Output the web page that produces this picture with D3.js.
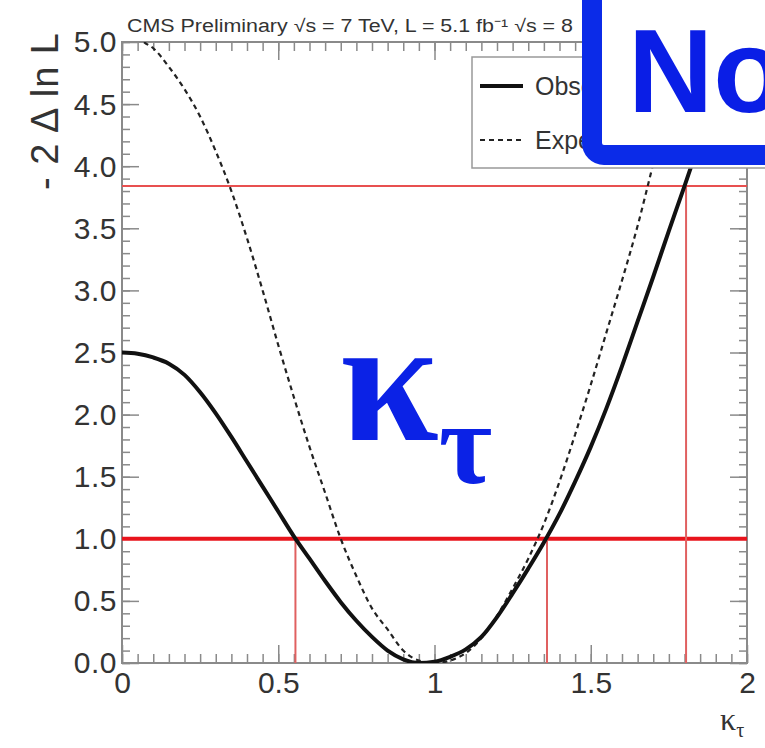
<!DOCTYPE html>
<html><head><meta charset="utf-8">
<script src="https://cdn.jsdelivr.net/npm/d3@7"></script>
<style>body{margin:0;background:#fff}svg{display:block}</style>
</head><body>
<script>
// ---- data ----
const kappa = [0,0.05,0.1,0.15,0.2,0.25,0.3,0.35,0.4,0.45,0.5,0.55,0.6,0.65,0.7,0.75,0.8,0.85,0.9,0.95,1.0,1.05,1.1,1.15,1.2,1.25,1.3,1.35,1.4,1.45,1.5,1.55,1.6,1.65,1.7,1.75,1.8,1.85,1.9,1.95];
const observed = [2.50,2.49,2.46,2.41,2.32,2.18,2.01,1.82,1.62,1.42,1.22,1.02,0.84,0.66,0.49,0.34,0.21,0.10,0.03,0.00,0.01,0.05,0.11,0.21,0.37,0.56,0.76,0.97,1.20,1.46,1.74,2.05,2.39,2.75,3.11,3.48,3.84,4.21,4.60,5.00];
const kappaExp = [0.05,0.07,0.1,0.15,0.2,0.25,0.3,0.35,0.4,0.45,0.5,0.55,0.6,0.65,0.7,0.75,0.8,0.85,0.9,0.95,1.0,1.05,1.1,1.15,1.2,1.25,1.3,1.35,1.4,1.45,1.5,1.55,1.6,1.65,1.7,1.75,1.8];
const expected = [5.05,5.0,4.95,4.80,4.62,4.40,4.12,3.80,3.42,3.00,2.56,2.14,1.74,1.37,1.00,0.70,0.44,0.27,0.10,0.02,0.00,0.02,0.08,0.20,0.38,0.60,0.84,1.12,1.46,1.84,2.24,2.66,3.08,3.52,4.02,4.52,5.00];
const levels = [1.0, 3.84];
const crossings = [[0.555,1.0],[1.36,1.0],[1.805,3.84]];
const yTicks = [0,0.5,1,1.5,2,2.5,3,3.5,4,4.5,5];
const xTicks = [0,0.5,1,1.5,2];
const legendLabels = ["Observed","Expected"];

// ---- layout ----
const W=765,H=748, L=122, R=747, T=42, B=663;
const svg=d3.select("body").append("svg").attr("width",W).attr("height",H);
const x=d3.scaleLinear().domain([0,2]).range([L,R]);
const y=d3.scaleLinear().domain([0,5]).range([B,T]);
const grey="#333", frame="#8a8a8a";
const sans="Liberation Sans, Arial, sans-serif";

const defs=svg.append("defs");
defs.append("clipPath").attr("id","plot").append("rect").attr("x",L).attr("y",T).attr("width",R-L).attr("height",B-T);

// frame
svg.append("rect").attr("x",L).attr("y",T).attr("width",R-L).attr("height",B-T).attr("fill","none").attr("stroke",frame).attr("stroke-width",2);

function styleAxis(g){g.select(".domain").remove();g.selectAll("line").attr("stroke",frame).attr("stroke-width",1.5);}
const yMinor=d3.range(0,5.01,0.1).map(v=>+v.toFixed(2));
const xMinor=d3.range(0,2.001,0.05).map(v=>+v.toFixed(3));
// left axis
svg.append("g").attr("transform",`translate(${L},0)`).call(d3.axisLeft(y).tickValues(yMinor).tickSize(-8).tickFormat("")).call(styleAxis);
svg.append("g").attr("transform",`translate(${L},0)`).call(d3.axisLeft(y).tickValues(yTicks).tickSize(-17).tickPadding(5).tickFormat(d3.format(".1f"))).call(styleAxis)
  .selectAll("text").attr("font-family",sans).attr("font-size",30).attr("letter-spacing",0.5).attr("fill",grey).attr("dy","0.33em");
// right axis
svg.append("g").attr("transform",`translate(${R},0)`).call(d3.axisRight(y).tickValues(yMinor).tickSize(-8).tickFormat("")).call(styleAxis);
svg.append("g").attr("transform",`translate(${R},0)`).call(d3.axisRight(y).tickValues(yTicks).tickSize(-17).tickFormat("")).call(styleAxis);
// bottom axis
svg.append("g").attr("transform",`translate(0,${B})`).call(d3.axisBottom(x).tickValues(xMinor).tickSize(-9).tickFormat("")).call(styleAxis);
svg.append("g").attr("transform",`translate(0,${B})`).call(d3.axisBottom(x).tickValues(xTicks).tickSize(-18).tickPadding(9).tickFormat(d=>d3.format("")(d))).call(styleAxis)
  .selectAll("text").attr("font-family",sans).attr("font-size",30).attr("fill",grey).attr("dy","0.71em");
// top axis
svg.append("g").attr("transform",`translate(0,${T})`).call(d3.axisTop(x).tickValues(xMinor).tickSize(-9).tickFormat("")).call(styleAxis);
svg.append("g").attr("transform",`translate(0,${T})`).call(d3.axisTop(x).tickValues(xTicks).tickSize(-18).tickFormat("")).call(styleAxis);

const plot=svg.append("g").attr("clip-path","url(#plot)");
// red lines
plot.append("line").attr("x1",L).attr("x2",R).attr("y1",y(levels[0])).attr("y2",y(levels[0])).attr("stroke","#e8141c").attr("stroke-width",4);
plot.append("line").attr("x1",L).attr("x2",R).attr("y1",y(levels[1])).attr("y2",y(levels[1])).attr("stroke","#e85050").attr("stroke-width",2);
crossings.forEach(c=>{
  plot.append("line").attr("x1",x(c[0])).attr("x2",x(c[0])).attr("y1",y(0)).attr("y2",y(c[1])).attr("stroke","#e06060").attr("stroke-width",2);
});
// curves
const line=d3.line().curve(d3.curveMonotoneX);
plot.append("path").attr("d",line(kappaExp.map((k,i)=>[x(k),y(expected[i])]))).attr("fill","none").attr("stroke","#222").attr("stroke-width",2.2).attr("stroke-dasharray","5,4");
plot.append("path").attr("d",line(kappa.map((k,i)=>[x(k),y(observed[i])]))).attr("fill","none").attr("stroke","#111").attr("stroke-width",4);

// legend
const lg=svg.append("g");
lg.append("rect").attr("x",472).attr("y",57).attr("width",300).attr("height",111).attr("fill","#fff").attr("stroke","#999").attr("stroke-width",1.5);
lg.append("line").attr("x1",480).attr("x2",523).attr("y1",86).attr("y2",86).attr("stroke","#111").attr("stroke-width",4);
lg.append("line").attr("x1",480).attr("x2",523).attr("y1",140).attr("y2",140).attr("stroke","#222").attr("stroke-width",2).attr("stroke-dasharray","5,4");
lg.append("text").attr("x",535).attr("y",95).text(legendLabels[0]).attr("font-family",sans).attr("font-size",25).attr("fill",grey);
lg.append("text").attr("x",535).attr("y",149).text(legendLabels[1]).attr("font-family",sans).attr("font-size",25).attr("fill",grey);

// header
svg.append("text").attr("x",127).attr("y",32).attr("font-family",sans).attr("font-size",18).attr("fill",grey)
  .attr("textLength",446).attr("lengthAdjust","spacingAndGlyphs")
  .text("CMS Preliminary  \u221As = 7 TeV, L = 5.1 fb\u207B\u00B9  \u221As = 8");

// axis titles
svg.append("text").attr("transform","translate(58,32) rotate(-90)").attr("text-anchor","end").attr("font-family",sans).attr("font-size",38).attr("fill",grey)
  .attr("letter-spacing",1).text("- 2 \u0394 ln L");
const xt=svg.append("text").attr("x",720).attr("y",730).attr("font-family","Liberation Serif, serif").attr("font-size",32).attr("fill",grey);
xt.append("tspan").text("\u03BA");
xt.append("tspan").attr("dy",7).attr("font-size",20).text("\u03C4");

// big kappa label
const kt=svg.append("text").attr("x",340).attr("y",440).attr("font-family","Liberation Serif, serif").attr("font-weight","bold").attr("fill","#0b22e6").attr("font-size",178);
kt.append("tspan").text("\u03BA");
kt.append("tspan").attr("dx",0).attr("dy",43).attr("font-size",116).text("\u03C4");

// blue box
svg.append("rect").attr("x",592).attr("y",-60).attr("width",300).attr("height",215).attr("rx",12).attr("fill","#fff").attr("stroke","#0b2be8").attr("stroke-width",20);
svg.append("text").attr("x",628).attr("y",112).attr("font-family",sans).attr("font-weight","bold").attr("font-size",118).attr("fill","#0a1ee6").text("No");
</script>
</body></html>
